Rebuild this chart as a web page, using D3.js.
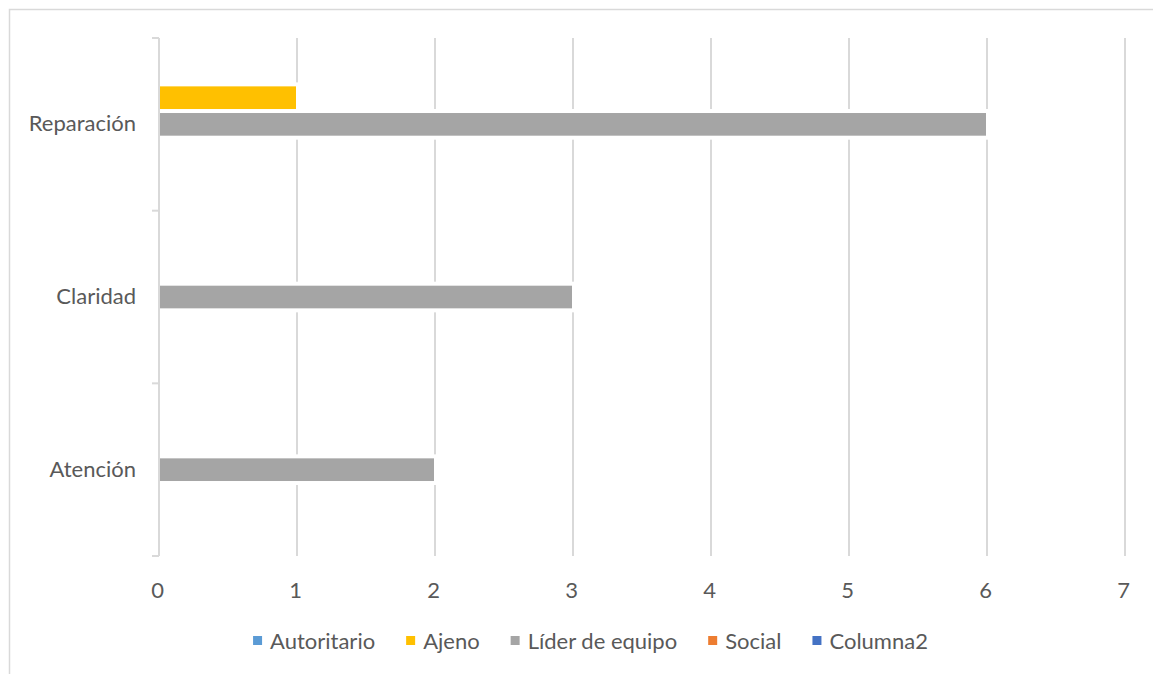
<!DOCTYPE html>
<html>
<head>
<meta charset="utf-8">
<script src="https://cdn.jsdelivr.net/npm/d3@7"></script>
<style>
  body { margin: 0; background: #fff; }
  text { font-family: Lato, "Open Sans", sans-serif; fill: #595959; }
</style>
</head>
<body>
<div id="chart"></div>
<script>
// Data
var categories = ["Reparación", "Claridad", "Atención"];
var series = ["Autoritario", "Ajeno", "Líder de equipo", "Social", "Columna2"];
var colors = ["#5B9BD5", "#FFC000", "#A5A5A5", "#ED7D31", "#4472C4"];
var autoritario = [0, 0, 0];
var ajeno = [1, 0, 0];
var liderEquipo = [6, 3, 2];
var social = [0, 0, 0];
var columna2 = [0, 0, 0];
var xTicks = [0, 1, 2, 3, 4, 5, 6, 7];

var values = [autoritario, ajeno, liderEquipo, social, columna2];

// Svg size
var svgWidth = 1153;
var svgHeight = 674;

var plot = { left: 159, right: 1125, top: 38, bottom: 556 };

var svg = d3.select("#chart")
    .append("svg")
    .attr("width", svgWidth)
    .attr("height", svgHeight);

// Chart frame (cut off at right and bottom in the reference)
svg.append("rect")
    .attr("x", 9.5).attr("y", 9.5)
    .attr("width", 1300).attr("height", 800)
    .attr("fill", "none")
    .attr("stroke", "#D9D9D9")
    .attr("stroke-width", 1.5);

// Scales
var xScale = d3.scaleLinear().domain([0, 7]).range([plot.left, plot.right]);
var yScale = d3.scaleBand().domain(categories).range([plot.top, plot.bottom]);
var bandH = yScale.bandwidth();
var ySeries = d3.scaleBand().domain(series)
    .range([bandH * 0.1257, bandH * 0.8745])
    .paddingInner(0.15);

// Gridlines
svg.append("g").selectAll("line")
    .data(xTicks.slice(1))
    .enter()
    .append("line")
    .attr("x1", d => xScale(d)).attr("x2", d => xScale(d))
    .attr("y1", plot.top).attr("y2", plot.bottom)
    .attr("stroke", "#D9D9D9")
    .attr("stroke-width", 2);

// Flatten data for bars
var bars = [];
categories.forEach(function(c, i) {
    series.forEach(function(s, j) {
        bars.push({ cat: c, ser: s, val: values[j][i], color: colors[j] });
    });
});
var shown = bars.filter(d => d.val > 0);

// White halo behind bars (breaks the gridlines like in the reference)
svg.append("g").selectAll("rect")
    .data(shown)
    .enter()
    .append("rect")
    .attr("x", xScale(0) + 1)
    .attr("y", d => yScale(d.cat) + ySeries(d.ser) - 4)
    .attr("width", d => xScale(d.val) - xScale(0) + 3)
    .attr("height", ySeries.bandwidth() + 8)
    .attr("fill", "#fff");

// Bars
svg.append("g").selectAll("rect")
    .data(shown)
    .enter()
    .append("rect")
    .attr("x", xScale(0) + 1)
    .attr("y", d => yScale(d.cat) + ySeries(d.ser))
    .attr("width", d => xScale(d.val) - xScale(0) - 2)
    .attr("height", ySeries.bandwidth())
    .attr("fill", d => d.color);

// Vertical category axis
var leftAxis = d3.axisLeft(yScale).tickSize(0).tickPadding(23);
var yAxisG = svg.append("g")
    .attr("transform", `translate(${plot.left}, 0)`)
    .call(leftAxis);
yAxisG.select(".domain").remove();
yAxisG.selectAll("text")
    .attr("font-size", 22)
    .style("font-family", "Lato, sans-serif")
    .attr("fill", "#595959");

svg.append("line")
    .attr("x1", plot.left).attr("x2", plot.left)
    .attr("y1", plot.top).attr("y2", plot.bottom)
    .attr("stroke", "#D9D9D9").attr("stroke-width", 2);

// Category separator ticks
var sepY = categories.map(c => yScale(c)).concat([plot.bottom]);
svg.append("g").selectAll("line")
    .data(sepY)
    .enter()
    .append("line")
    .attr("x1", plot.left - 7).attr("x2", plot.left)
    .attr("y1", d => d).attr("y2", d => d)
    .attr("stroke", "#D9D9D9").attr("stroke-width", 2);

// Value axis labels
var bottomAxis = d3.axisBottom(xScale).tickValues(xTicks)
    .tickFormat(d3.format("d")).tickSize(0).tickPadding(26);
var xAxisG = svg.append("g")
    .attr("transform", `translate(0, ${plot.bottom})`)
    .call(bottomAxis);
xAxisG.select(".domain").remove();
xAxisG.selectAll("text")
    .attr("font-size", 22)
    .style("font-family", "Lato, sans-serif")
    .attr("fill", "#595959")
    .attr("dx", -2);

// Legend
var legend = svg.append("g");
var items = legend.selectAll("g")
    .data(series)
    .enter()
    .append("g");
items.append("rect")
    .attr("width", 9).attr("height", 9)
    .attr("y", -5)
    .attr("fill", (d, i) => colors[i]);
items.append("text")
    .attr("x", 17)
    .attr("dy", "0.35em")
    .attr("font-size", 22)
    .text(d => d);

var pos = 0;
items.each(function() {
    var w = d3.select(this).select("text").node().getComputedTextLength();
    d3.select(this).attr("transform", `translate(${pos}, 0)`);
    pos += 17 + w + 31;
});
var totalW = pos - 31;
legend.attr("transform", `translate(${590.5 - totalW / 2}, 641)`);
</script>
</body>
</html>
